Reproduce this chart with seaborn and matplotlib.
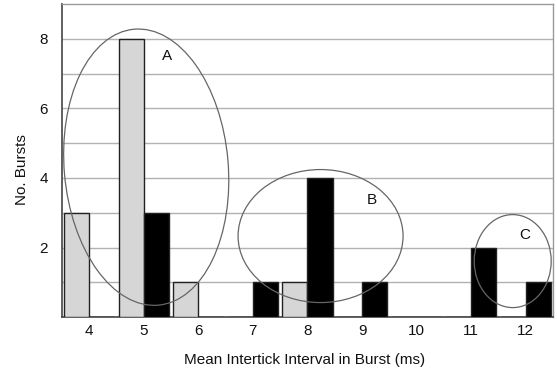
import matplotlib
matplotlib.use("Agg")
import matplotlib.pyplot as plt
from matplotlib.patches import Ellipse
from matplotlib.transforms import ScaledTranslation
import seaborn as sns
import pandas as pd

intervals = ["4", "5", "6", "7", "8", "9", "10", "11", "12"]
light_counts = [3, 8, 1, 0, 1, 0, 0, 0, 0]
dark_counts = [0, 3, 0, 1, 4, 1, 0, 2, 1]
groups = ["light", "dark"]
y_ticks = [2, 4, 6, 8]
grid_levels = [1, 2, 3, 4, 5, 6, 7, 8]

df = pd.DataFrame({
    "interval": intervals * 2,
    "group": ["light"] * len(intervals) + ["dark"] * len(intervals),
    "count": light_counts + dark_counts,
})

sns.set_theme(style="white")
plt.rcParams["font.family"] = ["Liberation Sans", "DejaVu Sans"]

fig = plt.figure(figsize=(5.57, 3.70), dpi=100)
ax = fig.add_axes([0.111, 0.143, 0.882, 0.846])

sns.barplot(data=df, x="interval", y="count", hue="group", order=intervals,
            hue_order=groups, palette={"light": "#d6d6d6", "dark": "#000000"},
            width=0.92, dodge=True, ax=ax, legend=False, saturation=1,
            edgecolor="#222222", linewidth=1.0, zorder=3)

ax.set_xlim(-0.5, len(intervals) - 0.5)
ax.set_ylim(0, 9)
ax.set_yticks(y_ticks)
ax.hlines(grid_levels, -0.5, len(intervals) - 0.5, colors="#b2b2b2",
          linewidths=1.0, zorder=2)
ax.tick_params(axis="both", which="both", length=0, labelsize=11, colors="#111111")
ax.tick_params(axis="x", pad=5)
ax.tick_params(axis="y", pad=10)

for side in ["left", "bottom"]:
    ax.spines[side].set_color("#444444")
    ax.spines[side].set_linewidth(1.2)
for side in ["top", "right"]:
    ax.spines[side].set_color("#999999")
    ax.spines[side].set_linewidth(1.0)

ax.set_xlabel("Mean Intertick Interval in Burst (ms)", fontsize=11, color="#111111")
ax.set_ylabel("No. Bursts", fontsize=11, color="#111111")
ax.xaxis.set_label_coords(0.495, -0.115)
ax.yaxis.set_label_coords(-0.066, 0.47)

# cluster ellipses (centre in data coords, size in inches)
clusters = [
    ("A", (1.046, 4.31), 1.64, 2.77, 5, (1.43, 7.50)),
    ("B", (4.24, 2.33), 1.65, 1.33, 0, (5.17, 3.36)),
    ("C", (7.76, 1.61), 0.77, 0.93, 0, (7.98, 2.36)),
]
for name, (cx, cy), w, h, ang, (tx, ty) in clusters:
    tr = fig.dpi_scale_trans + ScaledTranslation(cx, cy, ax.transData)
    e = Ellipse((0, 0), w, h, angle=ang, transform=tr, fill=False,
                edgecolor="#666666", linewidth=0.9, zorder=4)
    ax.add_patch(e)
    ax.text(tx, ty, name, fontsize=11, ha="center", va="center", color="#111111", zorder=5)

fig.savefig("out.png", dpi=100)
